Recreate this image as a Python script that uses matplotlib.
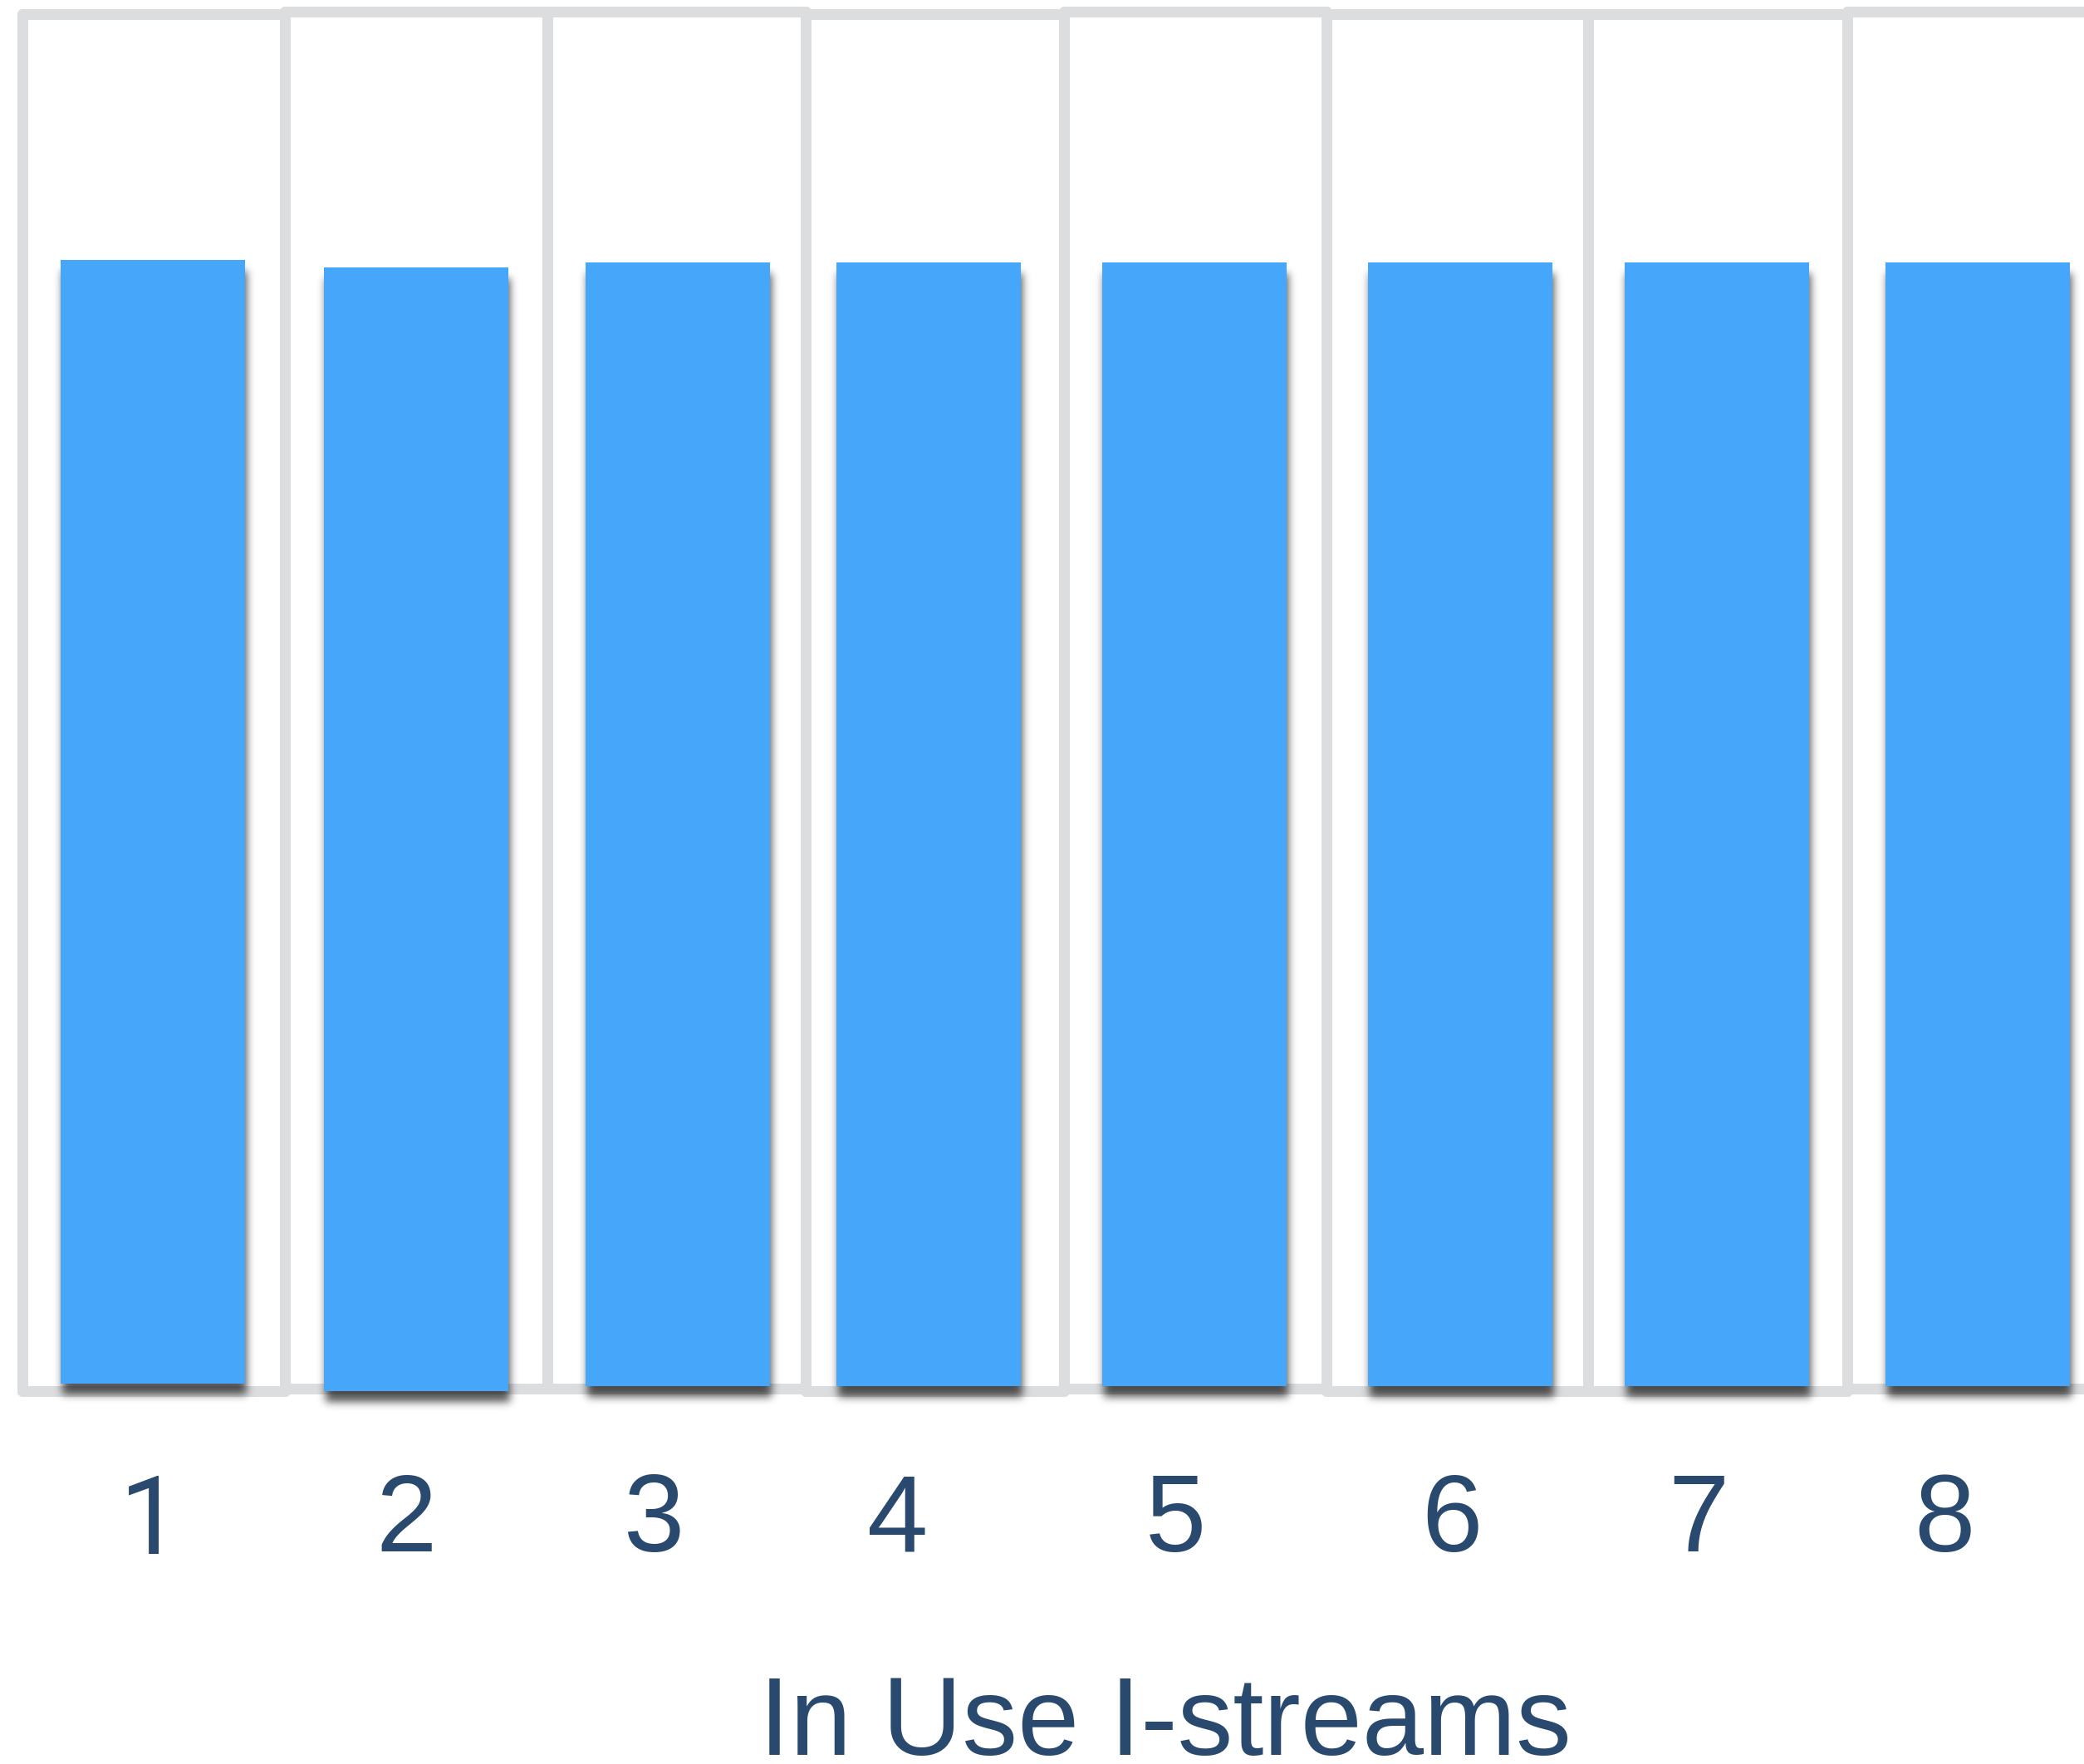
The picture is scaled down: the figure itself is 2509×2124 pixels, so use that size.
import numpy as np
import matplotlib
matplotlib.use("Agg")
import matplotlib.pyplot as plt

# ---- data -------------------------------------------------------------
streams = ["1", "2", "3", "4", "5", "6", "7", "8"]
throughput = [100, 100, 100, 100, 100, 100, 100, 100]
x_title = "In Use I-streams"

# ---- style ------------------------------------------------------------
BAR_COLOR = "#45A6FA"
FRAME_COLOR = "#DCDDDF"
TEXT_COLOR = "#294A6E"
FONT = "Liberation Sans"
# footless "1" glyph
GLYPH_FONT = {"1": "Roboto"}

FIG_W, FIG_H, DPI = 2509, 2124, 100
PX = 72.0 / DPI  # points per pixel

# ---- layout (pixels) --------------------------------------------------
frame_left = [27, 343, 659, 970, 1281, 1597, 1912, 2224]
frame_right = [343, 659, 970, 1281, 1597, 1912, 2224, 2539]
frame_top = [16.5, 14, 14, 16.5, 14, 16.5, 16.5, 14]
frame_bottom = [1674.5, 1671.5, 1671.5, 1674.5, 1671.5, 1674.5, 1674.5, 1671.5]
base_lift = [8.5, -3.5, 2.5, 5.5, 2.5, 5.5, 5.5, 2.5]      # bar base above frame bottom
bar_shift = [-1, 0, 1.5, -7.5, -1, 3.5, -1, -0.5]          # bar centre vs frame centre
label_shift = [-4, -12, -27.5, -44.5, -24, -6.5, -23, -40.5]
BAR_PX = 222
FRAME_LW = 13
LABEL_TOP = 1772
Y_SPAN = 122.5  # value range covered by one frame's height


def _blur(a, sigma):
    r = int(3 * sigma)
    k = np.exp(-0.5 * (np.arange(-r, r + 1) / sigma) ** 2)
    k /= k.sum()
    for axis in (0, 1):
        out = np.zeros_like(a)
        for j, w in enumerate(k):
            out += w * np.roll(a, j - r, axis=axis)
        a = out
    return a


class DropShadow:
    """Soft black shadow offset down/right, used as an agg filter."""

    def __init__(self, sigma=5.0, dx=2, dy=12, alpha=0.62):
        self.sigma, self.dx, self.dy, self.alpha = sigma, dx, dy, alpha

    def __call__(self, im, dpi):
        pad = int(3 * self.sigma) + max(abs(self.dx), abs(self.dy)) + 2
        a = np.pad(im[:, :, 3], pad)
        a = np.roll(a, self.dy, axis=0)
        a = np.roll(a, self.dx, axis=1)
        a = _blur(a, self.sigma)
        out = np.zeros(a.shape + (4,), dtype=im.dtype)
        out[..., 3] = np.clip(a * self.alpha, 0, 1)
        return out, -pad, -pad


fig = plt.figure(figsize=(FIG_W / DPI, FIG_H / DPI), dpi=DPI)
fig.patch.set_facecolor("white")

for i, (cat, val) in enumerate(zip(streams, throughput)):
    L, R = frame_left[i], frame_right[i]
    T, B = frame_top[i], frame_bottom[i]
    W, H = R - L, B - T
    ax = fig.add_axes([L / FIG_W, 1 - B / FIG_H, W / FIG_W, H / FIG_H])
    ax.set_facecolor("none")
    ax.set_xlim(-0.5, 0.5)
    y0 = -base_lift[i] * Y_SPAN / H
    ax.set_ylim(y0, y0 + Y_SPAN)

    xc = bar_shift[i] / W
    bw = BAR_PX / W
    shadow = ax.bar([xc], [val], width=bw, color="black", zorder=3,
                    clip_on=False, linewidth=0)
    for p in shadow:
        p.set_agg_filter(DropShadow(sigma=5.0, dx=2, dy=13, alpha=0.66))
    ax.bar([xc], [val], width=bw, color=BAR_COLOR, zorder=4,
           clip_on=False, linewidth=0)

    for s in ax.spines.values():
        s.set_color(FRAME_COLOR)
        s.set_linewidth(FRAME_LW * PX)
        s.set_capstyle("round")
        s.set_zorder(2)

    ax.set_yticks([])
    ax.set_xticks([label_shift[i] / W])
    ax.set_xticklabels([cat], fontsize=95, color=TEXT_COLOR,
                       family=[GLYPH_FONT.get(cat, FONT), FONT])
    ax.tick_params(axis="x", length=0, pad=(LABEL_TOP - B) * PX)

fig.text(1403 / FIG_W, 1 - 2113 / FIG_H, x_title, ha="center", va="baseline",
         fontsize=96, color=TEXT_COLOR, family=FONT)

fig.savefig("out.png", dpi=DPI, facecolor="white")
